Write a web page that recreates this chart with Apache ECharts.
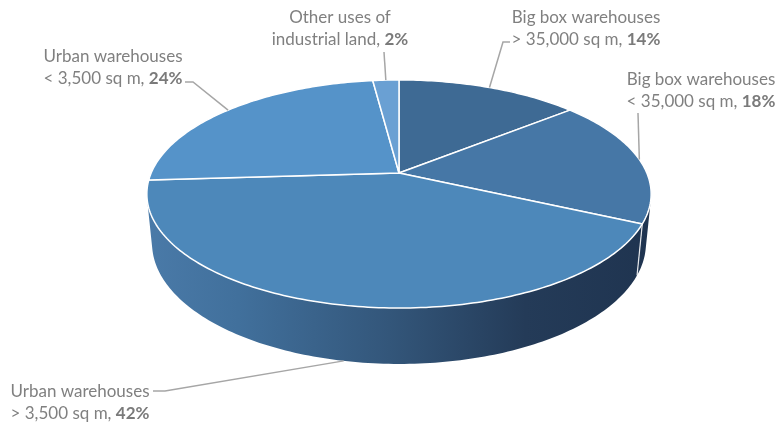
<!DOCTYPE html>
<html><head><meta charset="utf-8">
<script src="https://cdn.jsdelivr.net/npm/echarts@6/dist/echarts.min.js"></script>
<style>html,body{margin:0;padding:0;background:#fff}#c{width:779px;height:423px}</style>
</head><body><div id="c"></div>
<script>
// ---- data ----
const categories = [
  'Big box warehouses\n> 35,000 sq m',
  'Big box warehouses\n< 35,000 sq m',
  'Urban warehouses\n> 3,500 sq m',
  'Urban warehouses\n< 3,500 sq m',
  'Other uses of\nindustrial land'
];
const values = [14, 18, 42, 24, 2];

// ---- styles / layout ----
const sliceColors = ['#3e6a94', '#4677a6', '#4d88ba', '#5593c9', '#6aa0d3'];
// label text centre (x, top y) and leader elbow points (from anchor outward)
const labelLayout = [
  {x: 586, y: 7,  elbow: [[503, 42], [510, 42]]},
  {x: 701, y: 69, elbow: [[638, 113]]},
  {x: 80,  y: 381, elbow: [[165, 391], [153, 391]]},
  {x: 113, y: 46, elbow: [[193, 82], [185, 82]]},
  {x: 340, y: 7,  elbow: [[384, 52]]}
];

// ---- 3D projection (perspective pie) ----
const CX = 399, CY = 173, F = 1207, DIST = 4.87, ALPHA = 26.4 * Math.PI / 180, H = 0.223;
const SA = Math.sin(ALPHA), CA = Math.cos(ALPHA);
function proj(phi, Y) {
  const X = Math.sin(phi), Z = -Math.cos(phi);
  const d = DIST - (Y * SA + Z * CA);
  const up = Y * CA - Z * SA;
  return [CX + F * X / d, CY - F * up / d];
}
const total = values.reduce((a, b) => a + b, 0);
const starts = [];
{ let acc = 0; values.forEach(v => { starts.push(acc / total * 2 * Math.PI); acc += v; }); }
const visA = Math.acos(-1 / (DIST * CA));       // visible side range
const visB = 2 * Math.PI - visA;

function arcPts(a, b, Y) {
  const n = Math.max(2, Math.ceil((b - a) / (Math.PI / 180)));
  const pts = [];
  for (let i = 0; i <= n; i++) pts.push(proj(a + (b - a) * i / n, Y));
  return pts;
}

const sideGradient = new echarts.graphic.LinearGradient(147, 0, 652, 0, [
  {offset: 0, color: '#4a7aa8'},
  {offset: 0.18, color: '#41709c'},
  {offset: 0.48, color: '#33567a'},
  {offset: 0.75, color: '#243b58'},
  {offset: 1, color: '#1f3450'}
], true);

function renderSide(params, api) {
  const i = params.dataIndex;
  const a0 = starts[i], a1 = a0 + values[i] / total * 2 * Math.PI;
  const a = Math.max(a0, visA), b = Math.min(a1, visB);
  const children = [];
  if (b > a) {
    const top = arcPts(a, b, 0), bot = arcPts(a, b, -H).reverse();
    children.push({type: 'polygon', shape: {points: top.concat(bot)},
      style: {fill: sideGradient, stroke: null}});
    if (a0 > visA && a0 < visB) {
      const p = proj(a0, 0), q = proj(a0, -H);
      children.push({type: 'line', shape: {x1: p[0], y1: p[1], x2: q[0], y2: q[1]},
        style: {stroke: 'rgba(255,255,255,0.85)', lineWidth: 1.2}});
    }
  }
  return {type: 'group', children};
}

function renderTop(params, api) {
  const i = params.dataIndex;
  const a0 = starts[i], a1 = a0 + values[i] / total * 2 * Math.PI;
  const centre = [CX, CY];
  const poly = [centre].concat(arcPts(a0, a1, 0));
  const mid = (a0 + a1) / 2;
  const midZ = -Math.cos(mid);
  const anchor = proj(mid, midZ > 0.5 ? -H : 0);
  const L = labelLayout[i];
  const line = [anchor].concat(L.elbow);
  const pct = Math.round(values[i] / total * 100) + '%';
  const lines = categories[i].split('\n');
  return {type: 'group', children: [
    {type: 'polygon', shape: {points: poly},
      style: {fill: sliceColors[i], stroke: '#ffffff', lineWidth: 1.5, lineJoin: 'round'}},
    {type: 'polyline', shape: {points: line}, z2: 5,
      style: {stroke: '#a6a6a6', lineWidth: 1.5, fill: null}},
    {type: 'text', x: L.x, y: L.y, z2: 6, style: {
      text: lines[0] + '\n' + lines[1] + ', {b|' + pct + '}',
      align: 'center', verticalAlign: 'top',
      fontFamily: 'Lato', fontSize: 17, lineHeight: 22, fill: '#808080',
      rich: {b: {fontFamily: 'Lato', fontSize: 17, fontWeight: 'bold', fill: '#7a7a7a', lineHeight: 22}}
    }}
  ]};
}

const chart = echarts.init(document.getElementById('c'), null, {renderer: 'canvas'});
chart.setOption({
  animation: false,
  backgroundColor: '#ffffff',
  series: [
    {type: 'custom', coordinateSystem: 'none', z: 1, silent: true,
      data: values, renderItem: renderSide},
    {type: 'custom', coordinateSystem: 'none', z: 2, silent: true,
      data: values, renderItem: renderTop}
  ]
});
</script></body></html>
